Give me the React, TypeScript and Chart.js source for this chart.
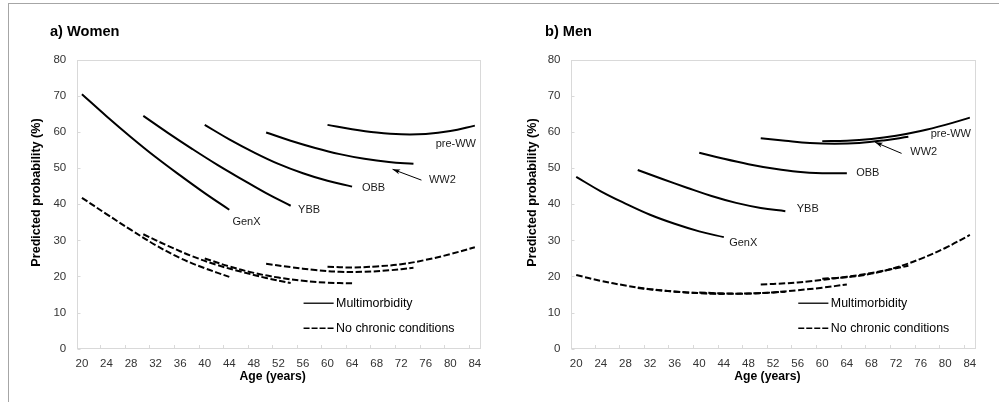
import React, { useEffect, useRef } from 'react';
import { Chart, registerables } from 'chart.js';

Chart.register(...registerables);

const FONT = "'Liberation Sans', Arial, Helvetica, sans-serif";

// ---- axis ticks ----
const AGE_TICKS = [20, 24, 28, 32, 36, 40, 44, 48, 52, 56, 60, 64, 68, 72, 76, 80, 84];
const AGE_TICK_MARKS = [23, 27, 31, 35, 39, 43, 47, 51, 55, 59, 63, 67, 71, 75, 79, 83];
const PROB_TICKS = [0, 10, 20, 30, 40, 50, 60, 70, 80];

// ---- cohorts and ages ----
const COHORTS = ['GenX', 'YBB', 'OBB', 'WW2', 'pre-WW'];
const AGES_GENX = [20, 24, 28, 32, 36, 40, 44];
const AGES_YBB = [30, 34, 38, 42, 46, 50, 54];
const AGES_OBB = [40, 44, 48, 52, 56, 60, 64];
const AGES_WW2 = [50, 54, 58, 62, 66, 70, 74];
const AGES_PREWW = [60, 64, 68, 72, 76, 80, 84];

// ---- Women: multimorbidity (%) ----
const W_MULTI_GENX = [70.5, 64.4, 58.6, 53.1, 48.0, 43.1, 38.5];
const W_MULTI_YBB = [64.5, 59.8, 55.3, 51.0, 47.0, 43.1, 39.6];
const W_MULTI_OBB = [62.0, 58.0, 54.4, 51.2, 48.6, 46.5, 44.9];
const W_MULTI_WW2 = [59.9, 57.6, 55.6, 53.9, 52.6, 51.7, 51.2];
const W_MULTI_PREWW = [62.0, 60.8, 59.9, 59.4, 59.5, 60.3, 61.8];

// ---- Women: no chronic conditions (%) ----
const W_NONE_GENX = [41.8, 37.3, 32.9, 28.7, 25.1, 22.3, 19.9];
const W_NONE_YBB = [31.7, 28.5, 25.6, 23.2, 21.3, 19.6, 18.2];
const W_NONE_OBB = [25.0, 22.8, 21.0, 19.7, 18.8, 18.3, 18.1];
const W_NONE_WW2 = [23.5, 22.6, 21.8, 21.3, 21.3, 21.7, 22.4];
const W_NONE_PREWW = [22.7, 22.5, 22.8, 23.4, 24.6, 26.2, 28.1];

// ---- Men: multimorbidity (%) ----
const M_MULTI_GENX = [47.6, 43.6, 40.2, 37.1, 34.6, 32.5, 30.9];
const M_MULTI_YBB = [49.5, 47.0, 44.6, 42.3, 40.4, 39.0, 38.1];
const M_MULTI_OBB = [54.3, 52.6, 51.1, 49.9, 49.0, 48.6, 48.6];
const M_MULTI_WW2 = [58.3, 57.6, 57.0, 56.8, 57.0, 57.7, 58.7];
const M_MULTI_PREWW = [57.5, 57.6, 58.1, 59.0, 60.3, 62.0, 64.0];

// ---- Men: no chronic conditions (%) ----
const M_NONE_GENX = [20.4, 18.8, 17.5, 16.5, 15.8, 15.4, 15.2];
const M_NONE_YBB = [16.8, 16.1, 15.6, 15.3, 15.2, 15.4, 15.8];
const M_NONE_OBB = [15.6, 15.3, 15.3, 15.6, 16.2, 16.9, 17.8];
const M_NONE_WW2 = [17.8, 18.1, 18.7, 19.5, 20.4, 21.6, 23.0];
const M_NONE_PREWW = [19.4, 19.8, 20.8, 22.5, 24.9, 27.9, 31.5];

const COHORT_AGES = [AGES_GENX, AGES_YBB, AGES_OBB, AGES_WW2, AGES_PREWW];

// ---- annotation anchors (data units: age, %) ----
const W_LABEL_AGE = [46.8, 57.0, 67.5, 78.7, 80.9];
const W_LABEL_VAL = [35.0, 38.3, 44.6, 46.7, 56.7];
const W_ARROW = [75.3, 46.7, 70.6, 49.7];
const M_LABEL_AGE = [47.15, 57.65, 67.4, 76.5, 80.9];
const M_LABEL_VAL = [29.3, 38.75, 48.7, 54.5, 59.5];
const M_ARROW = [72.9, 54.1, 68.6, 57.2];

const LEGEND_LABELS = ['Multimorbidity', 'No chronic conditions'];
const LEGEND_LINE_AGES = [56.1, 61.0, 61.4];
const LEGEND_ROW_VALS = [12.6, 5.65];

const DASH = [6.5, 2.5];

type PanelSpec = {
  key: string;
  title: string;
  multi: number[][];
  none: number[][];
  labelAge: number[];
  labelVal: number[];
  arrow: number[];
  canvasWidth: number;
  yAxisWidth: number;
  plotRight: number;
  yTitleOffset: number;
};

const PANELS: PanelSpec[] = [
  {
    key: 'women',
    title: 'a) Women',
    multi: [W_MULTI_GENX, W_MULTI_YBB, W_MULTI_OBB, W_MULTI_WW2, W_MULTI_PREWW],
    none: [W_NONE_GENX, W_NONE_YBB, W_NONE_OBB, W_NONE_WW2, W_NONE_PREWW],
    labelAge: W_LABEL_AGE,
    labelVal: W_LABEL_VAL,
    arrow: W_ARROW,
    canvasWidth: 495,
    yAxisWidth: 76.7,
    plotRight: 480.7,
    yTitleOffset: 40,
  },
  {
    key: 'men',
    title: 'b) Men',
    multi: [M_MULTI_GENX, M_MULTI_YBB, M_MULTI_OBB, M_MULTI_WW2, M_MULTI_PREWW],
    none: [M_NONE_GENX, M_NONE_YBB, M_NONE_OBB, M_NONE_WW2, M_NONE_PREWW],
    labelAge: M_LABEL_AGE,
    labelVal: M_LABEL_VAL,
    arrow: M_ARROW,
    canvasWidth: 504,
    yAxisWidth: 76,
    plotRight: 480.7,
    yTitleOffset: 38.5,
  },
];

const CANVAS_H = 402;
const PLOT_TOP = 59.9;
const PLOT_BOTTOM = 348.7;

function makeDecor(spec: PanelSpec) {
  return {
    id: 'decor_' + spec.key,
    beforeDatasetsDraw(chart: any) {
      const { ctx, chartArea: a, scales } = chart;
      const x = scales.x;
      const y = scales.y;
      ctx.save();
      ctx.strokeStyle = '#d9d9d9';
      ctx.lineWidth = 1;
      const l = Math.round(a.left) + 0.5;
      const r = Math.round(a.right) - 0.5;
      const t = Math.round(a.top) + 0.5;
      const b = Math.round(a.bottom) - 0.5;
      ctx.strokeRect(l, t, r - l, b - t);
      ctx.beginPath();
      PROB_TICKS.forEach((v) => {
        const py = Math.round(y.getPixelForValue(v)) + 0.5;
        ctx.moveTo(l, py);
        ctx.lineTo(l + 3, py);
      });
      AGE_TICK_MARKS.forEach((v) => {
        const px = Math.round(x.getPixelForValue(v)) + 0.5;
        ctx.moveTo(px, b);
        ctx.lineTo(px, b - 3.5);
      });
      ctx.stroke();
      ctx.restore();
    },
    afterDatasetsDraw(chart: any) {
      const { ctx, chartArea: a, scales } = chart;
      const x = scales.x;
      const y = scales.y;
      ctx.save();
      // cohort labels
      ctx.fillStyle = '#1a1a1a';
      ctx.font = `11px ${FONT}`;
      ctx.textAlign = 'center';
      ctx.textBaseline = 'middle';
      COHORTS.forEach((name, i) => {
        ctx.fillText(name, x.getPixelForValue(spec.labelAge[i]), y.getPixelForValue(spec.labelVal[i]));
      });
      // arrow
      const x1 = x.getPixelForValue(spec.arrow[0]);
      const y1 = y.getPixelForValue(spec.arrow[1]);
      const x2 = x.getPixelForValue(spec.arrow[2]);
      const y2 = y.getPixelForValue(spec.arrow[3]);
      ctx.strokeStyle = '#000';
      ctx.fillStyle = '#000';
      ctx.lineWidth = 1;
      ctx.beginPath();
      ctx.moveTo(x1, y1);
      ctx.lineTo(x2, y2);
      ctx.stroke();
      const ang = Math.atan2(y2 - y1, x2 - x1);
      const hl = 8;
      const hw = 0.32;
      ctx.beginPath();
      ctx.moveTo(x2, y2);
      ctx.lineTo(x2 - hl * Math.cos(ang - hw), y2 - hl * Math.sin(ang - hw));
      ctx.lineTo(x2 - hl * 0.7 * Math.cos(ang), y2 - hl * 0.7 * Math.sin(ang));
      ctx.lineTo(x2 - hl * Math.cos(ang + hw), y2 - hl * Math.sin(ang + hw));
      ctx.closePath();
      ctx.fill();
      // legend
      const lx1 = x.getPixelForValue(LEGEND_LINE_AGES[0]);
      const lx2 = x.getPixelForValue(LEGEND_LINE_AGES[1]);
      const tx = x.getPixelForValue(LEGEND_LINE_AGES[2]);
      LEGEND_LABELS.forEach((lab, i) => {
        const py = y.getPixelForValue(LEGEND_ROW_VALS[i]);
        ctx.beginPath();
        ctx.lineWidth = i === 0 ? 1.3 : 1.6;
        ctx.setLineDash(i === 0 ? [] : [6, 2]);
        ctx.moveTo(lx1, py);
        ctx.lineTo(lx2, py);
        ctx.stroke();
        ctx.setLineDash([]);
        ctx.fillStyle = '#000';
        ctx.font = `12.4px ${FONT}`;
        ctx.textAlign = 'left';
        ctx.textBaseline = 'middle';
        ctx.fillText(lab, tx, py);
      });
      // panel title
      ctx.fillStyle = '#000';
      ctx.font = `bold 14.6px ${FONT}`;
      ctx.textAlign = 'left';
      ctx.textBaseline = 'alphabetic';
      ctx.fillText(spec.title, 50, 36);
      // x axis title
      ctx.font = `bold 12.2px ${FONT}`;
      ctx.textAlign = 'center';
      ctx.fillText('Age (years)', (a.left + a.right) / 2 - 6, a.bottom + 31);
      // y axis title
      ctx.save();
      ctx.translate(a.left - spec.yTitleOffset, a.top + 132.6);
      ctx.rotate(-Math.PI / 2);
      ctx.font = `bold 12.6px ${FONT}`;
      ctx.textAlign = 'center';
      ctx.textBaseline = 'middle';
      ctx.fillText('Predicted probability (%)', 0, 0);
      ctx.restore();
      ctx.restore();
    },
  };
}

function buildDatasets(spec: PanelSpec) {
  const sets: any[] = [];
  COHORTS.forEach((name, i) => {
    const ages = COHORT_AGES[i];
    sets.push({
      label: name + ' multimorbidity',
      data: ages.map((a, j) => ({ x: a, y: spec.multi[i][j] })),
      borderColor: '#000',
      borderWidth: 2,
      borderDash: [],
      tension: 0.4,
      pointRadius: 0,
      fill: false,
    });
    sets.push({
      label: name + ' no chronic conditions',
      data: ages.map((a, j) => ({ x: a, y: spec.none[i][j] })),
      borderColor: '#000',
      borderWidth: 2,
      borderDash: DASH,
      tension: 0.4,
      pointRadius: 0,
      fill: false,
    });
  });
  return sets;
}

function Panel({ spec, left }: { spec: PanelSpec; left: number }) {
  const ref = useRef<HTMLCanvasElement | null>(null);
  useEffect(() => {
    const canvas = ref.current;
    if (!canvas) return;
    const tickFont = { family: FONT, size: 11.5 };
    const chart = new Chart(canvas, {
      type: 'line',
      data: { datasets: buildDatasets(spec) },
      options: {
        animation: false,
        responsive: false,
        events: [],
        layout: {
          padding: { left: 0, top: PLOT_TOP, right: spec.canvasWidth - spec.plotRight, bottom: 0 },
        },
        plugins: {
          legend: { display: false },
          tooltip: { enabled: false },
          title: { display: false },
        },
        elements: { point: { radius: 0 } },
        scales: {
          x: {
            type: 'linear',
            min: 19.15,
            max: 84.95,
            afterBuildTicks: (s: any) => {
              s.ticks = AGE_TICKS.map((v) => ({ value: v }));
            },
            afterFit: (s: any) => {
              s.height = CANVAS_H - PLOT_BOTTOM;
            },
            grid: { display: false, drawTicks: false },
            border: { display: false },
            ticks: { font: tickFont, color: '#333', padding: 8.5, maxRotation: 0, autoSkip: false },
          },
          y: {
            type: 'linear',
            min: 0,
            max: 80,
            afterBuildTicks: (s: any) => {
              s.ticks = PROB_TICKS.map((v) => ({ value: v }));
            },
            afterFit: (s: any) => {
              s.width = spec.yAxisWidth;
            },
            grid: { display: false, drawTicks: false },
            border: { display: false },
            ticks: { font: tickFont, color: '#333', padding: 10.5 },
          },
        },
      } as any,
      plugins: [makeDecor(spec)],
    });
    return () => chart.destroy();
  }, [spec]);
  return (
    <canvas
      ref={ref}
      width={spec.canvasWidth}
      height={CANVAS_H}
      style={{ position: 'absolute', left, top: 0, width: spec.canvasWidth, height: CANVAS_H }}
    />
  );
}

export default function App() {
  return (
    <div style={{ position: 'absolute', left: 0, top: 0, width: 999, height: 402, overflow: 'hidden', background: '#fff' }}>
      <div
        style={{
          position: 'absolute',
          left: 8,
          top: 3,
          width: 991,
          height: 399,
          borderTop: '1px solid #a6a6a6',
          borderLeft: '1px solid #a6a6a6',
        }}
      />
      <Panel spec={PANELS[0]} left={0} />
      <Panel spec={PANELS[1]} left={495} />
    </div>
  );
}
